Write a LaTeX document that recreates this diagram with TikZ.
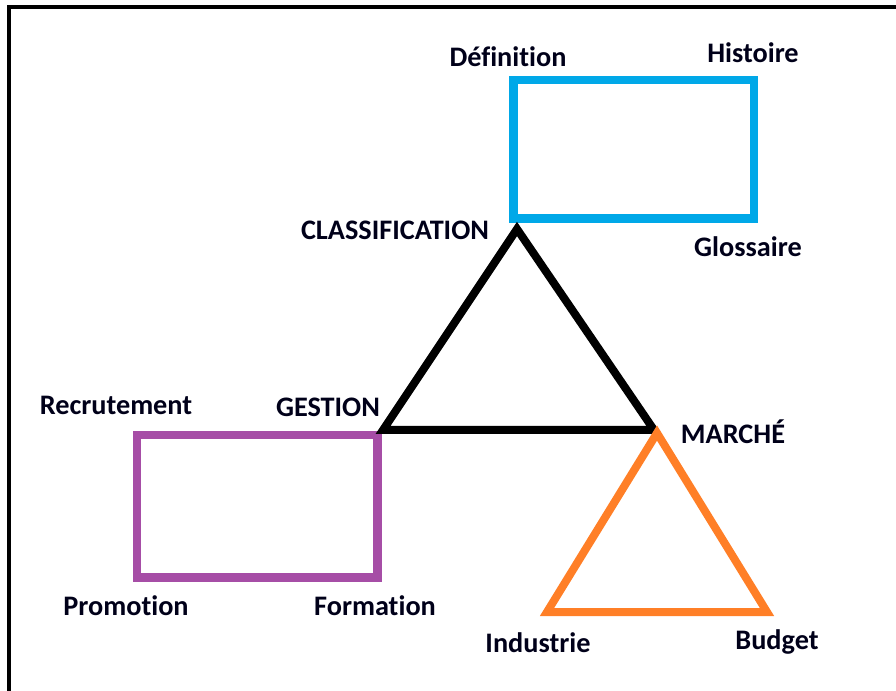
\documentclass[tikz,border=0pt]{standalone}
\usepackage{fontspec}
\setmainfont{Carlito}[Ligatures={NoCommon}]
\definecolor{cblue}{RGB}{0,168,232}
\definecolor{cpurple}{RGB}{166,77,166}
\definecolor{corange}{RGB}{255,127,39}
\begin{document}
\begin{tikzpicture}[x=0.75pt,y=-0.75pt,
  lbl/.style={font=\bfseries\fontsize{21.2}{25}\selectfont, text=black!90!blue, inner sep=0pt},
  shapeline/.style={line width=6.5pt, line join=miter}]
\useasboundingbox (0,0) rectangle (896,691);
% frame (left and top edges)
\draw[line width=2.4pt] (9,691) -- (9,7) -- (896,7);
% blue rectangle
\coordinate (b1) at (513.5,80);
\coordinate (b2) at (754,218.5);
\draw[shapeline, draw=cblue] (b1) rectangle (b2);
% purple rectangle
\coordinate (p1) at (137,435);
\coordinate (p2) at (377.5,577.5);
\draw[shapeline, draw=cpurple] (p1) rectangle (p2);
% black triangle
\coordinate (ta) at (517,229);
\coordinate (tl) at (383,430);
\coordinate (tr) at (654,430);
\draw[line width=6pt, line join=miter] (ta) -- (tl) -- (tr) -- cycle;
% orange triangle
\coordinate (oa) at (657,433);
\coordinate (ol) at (547,612);
\coordinate (or) at (767,612);
\draw[line width=6pt, line join=miter, draw=corange] (oa) -- (ol) -- (or) -- cycle;
% labels
\node[lbl] (def) at (508,57) {Définition};
\node[lbl] (his) at (753,53) {Histoire};
\node[lbl] (glo) at (748,247) {Glossaire};
\node[lbl] (cla) at (395,230) {CLASSIFICATION};
\node[lbl] (rec) at (116,405) {Recrutement};
\node[lbl] (ges) at (328,407) {GESTION};
\node[lbl] (mar) at (733,432) {MARCHÉ};
\node[lbl] (pro) at (126,606) {Promotion};
\node[lbl] (for) at (375,606) {Formation};
\node[lbl] (ind) at (538,643) {Industrie};
\node[lbl] (bud) at (777,642) {Budget};
\end{tikzpicture}
\end{document}
